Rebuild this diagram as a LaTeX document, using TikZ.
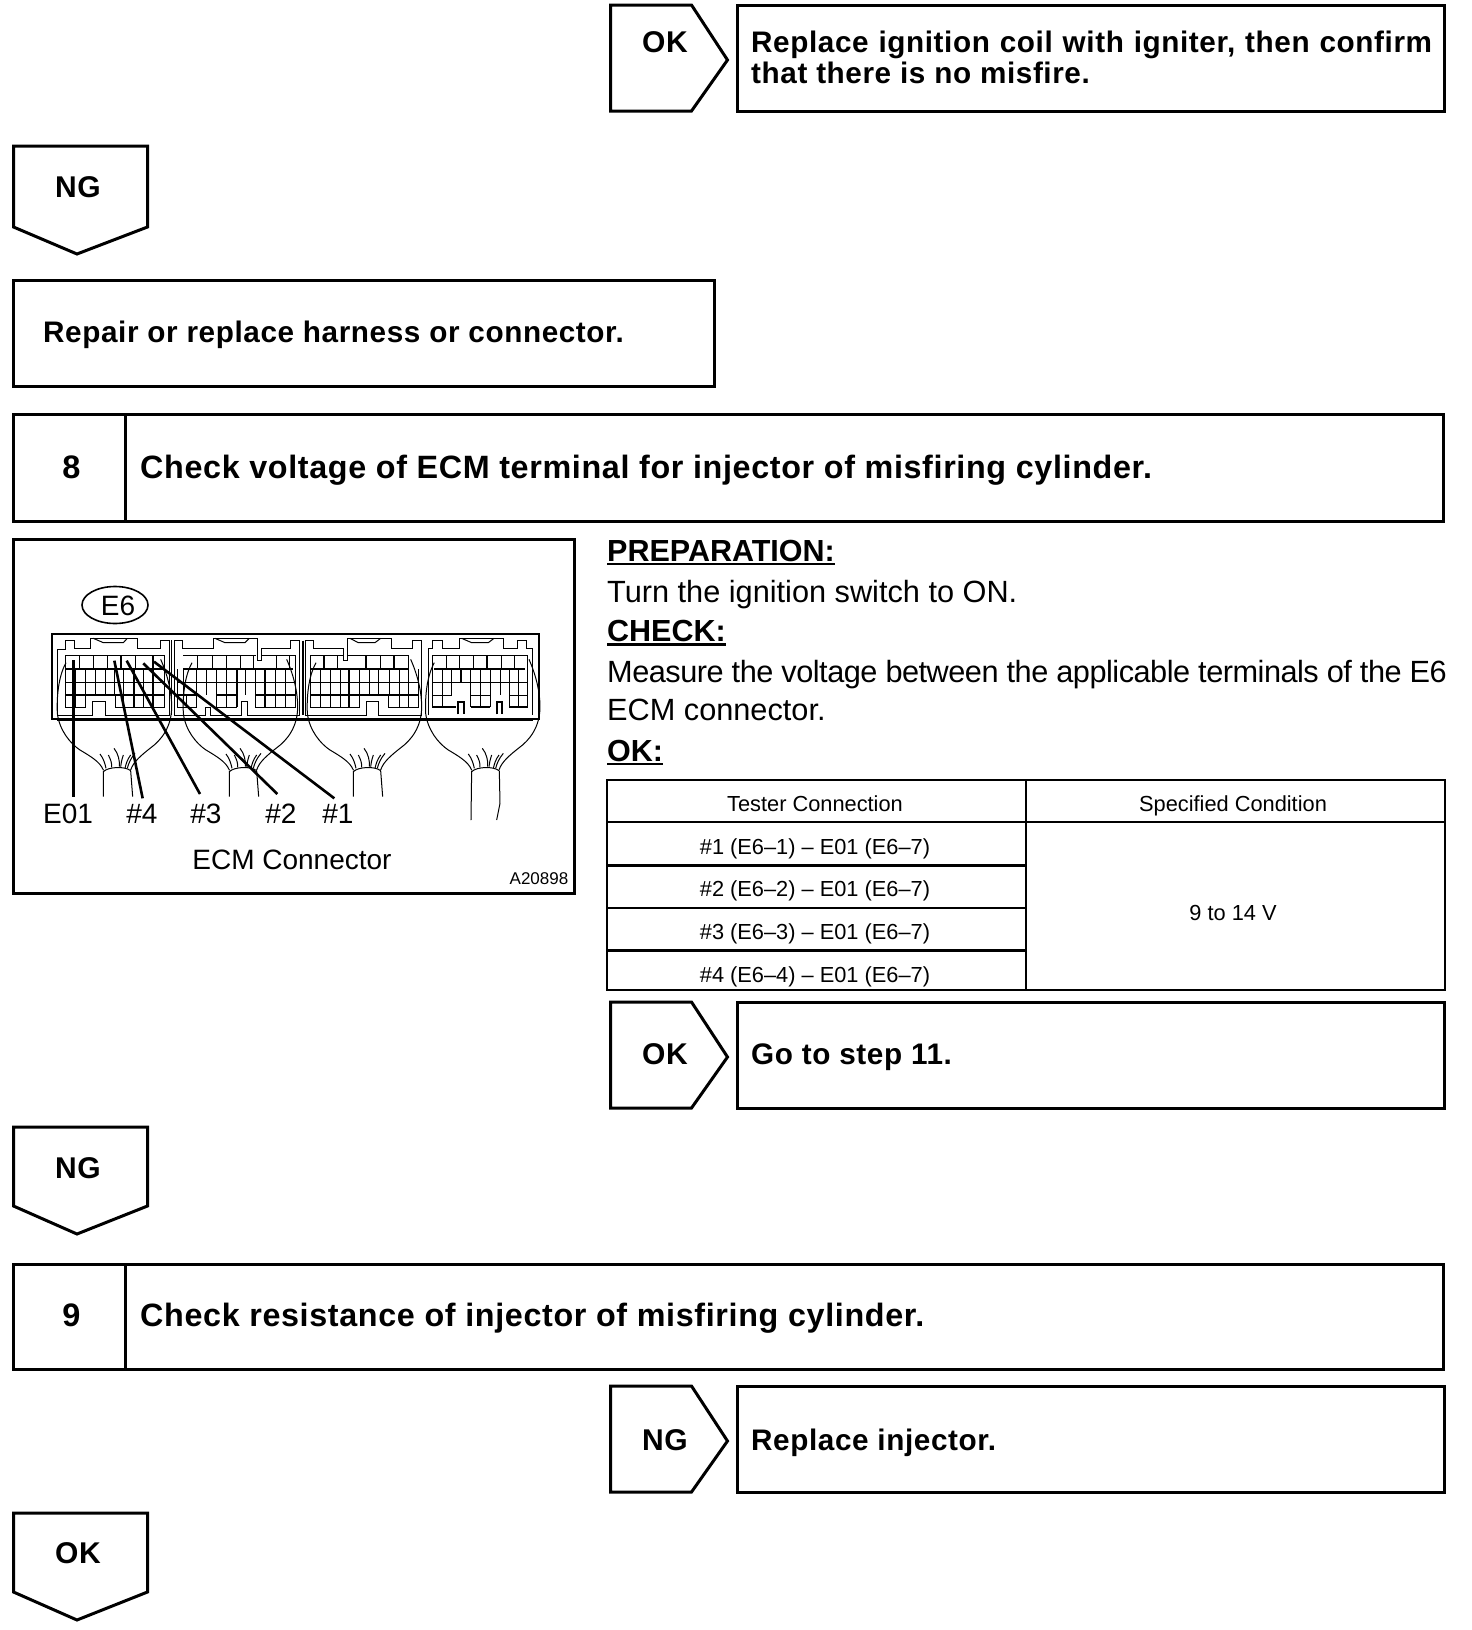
\documentclass[tikz,border=0pt]{standalone}
\usepackage{fontspec}
\usetikzlibrary{shapes.geometric}
\setmainfont{Liberation Sans}
\newfontfamily\bfsx[LetterSpace=2.0]{Liberation Sans}
\newfontfamily\tightf[LetterSpace=-1.6]{Liberation Sans}
\newcommand\bfs{\bfsx\bfseries}
\newcommand\hdul[1]{\leavevmode\vtop{\hbox{#1}\kern 1.5pt\hrule height 2.5pt}}
\newcommand\fs[1]{\fontsize{#1}{#1}\selectfont}
\tikzset{
  boxline/.style={draw=black,line width=3pt,line join=miter,fill=white},
  txt/.style={inner sep=0pt,anchor=base west,text=black},
  ctxt/.style={inner sep=0pt,anchor=base,text=black},
  flowb/.style={txt,font=\bfs\fs{29.7}},
  flowc/.style={ctxt,font=\bfs\fs{30}},
  headb/.style={txt,font=\bfs\fs{32.3}},
  headc/.style={ctxt,font=\bfs\fs{32.5}},
  body/.style={txt,font=\fs{30.7}},
  headg/.style={txt,font=\bfseries\fs{30.5}},
  tab/.style={ctxt,font=\fs{21.8}},
  lab/.style={ctxt,font=\fs{28}},
  thinl/.style={draw=black,line width=1pt,line join=miter},
  thickl/.style={draw=black,line width=2.2pt,line join=miter},
  callout/.style={draw=black,line width=2.6pt},
}
\newcommand\downtag[3]{% top, shoulder, tip
  \draw[boxline] (13.5,#1) -- (147.5,#1) -- (147.5,#2) -- (77,#3) -- (13.5,#2) -- cycle;}
\newcommand\righttag[3]{% top, bottom, tip
  \draw[boxline] (610.5,#1) -- (691.5,#1) -- (727.5,#3) -- (691.5,#2) -- (610.5,#2) -- cycle;}
\newcommand\harness[2]{% x offset, neck end
  \begin{scope}[xshift=#1*0.33333pt]
  \draw[thinl] (78,128) .. controls (55,170) and (50,230) .. (52,280) .. controls (58,330) and (90,370) .. (120,390) .. controls (150,408) and (180,425) .. (190,450);
  \draw[thinl] (362,118) .. controls (385,170) and (395,220) .. (395,260) .. controls (395,320) and (365,360) .. (330,385) .. controls (305,405) and (280,425) .. (272,450);
  \draw[thinl] (190,455) .. controls (205,440) and (255,438) .. (272,452);
  \draw[thinl] (180,402) .. controls (190,415) and (195,430) .. (198,445);
  \draw[thinl] (205,405) .. controls (212,418) and (216,430) .. (215,442);
  \draw[thinl] (222,385) .. controls (235,400) and (240,425) .. (238,440);
  \draw[thinl] (250,405) .. controls (245,420) and (243,430) .. (242,440);
  \draw[thinl] (272,405) .. controls (262,418) and (258,432) .. (255,445);
  \draw[thinl] (285,400) .. controls (272,415) and (265,432) .. (262,445);
  \end{scope}}
\begin{document}
\begin{tikzpicture}[x=1pt,y=-1pt]
\useasboundingbox[fill=white] (0,0) rectangle (1472,1630);

% --- top OK branch
\righttag{5}{111}{60}
\draw[boxline] (737,5) rectangle (1444.5,111);
\node[flowc] (okA) at (665,52) {OK};
\node[flowb] (okAa) at (751,52) {\spaceskip=9.9pt Replace ignition coil with igniter, then confirm};
\node[flowb] (okAb) at (751,83) {that there is no misfire.};

\downtag{146}{227}{254}
\node[flowc] (ngA) at (78,197) {NG};

\draw[boxline] (13.5,280) rectangle (714.5,386);
\node[flowb] (repair) at (43,342) {Repair or replace harness or connector.};

% --- step 8
\draw[boxline] (13.5,414) rectangle (1443.5,521);
\draw[boxline] (125.5,414) -- (125.5,521);
\node[headc] (n8) at (71.5,478) {8};
\node[headb] (t8) at (140,478) {Check voltage of ECM terminal for injector of misfiring cylinder.};

% --- figure
\draw[boxline] (13.5,539) rectangle (574,893);
\node[draw=black,line width=1.6pt,ellipse,minimum width=66pt,minimum height=37pt,inner sep=0pt] (e6) at (115,605) {};
\node[ctxt,font=\fs{28}] (e6t) at (118,615) {E6};

\begin{scope}[shift={(40,620)},x=0.33333pt,y=-0.33333pt]
  % outer housing
  \draw[draw=black,line width=2pt] (36,42) rectangle (1496,298);
  \draw[draw=black,line width=3pt] (50,298) -- (1480,298);
  % module 1
  \draw[thinl] (52,285) -- (52,88) -- (75,88) -- (75,62) -- (103,62) -- (103,85) -- (152,85) -- (152,55) -- (292,55) -- (292,85) -- (360,85) -- (360,62) -- (388,62) -- (388,285) -- (195,285) -- (195,245) -- (158,245) -- (158,285) -- cycle;
  \draw[thinl] (160,55) -- (190,68) -- (250,68) -- (262,55);
  \draw[thinl] (75,105) -- (372,105) (75,105) -- (75,262) -- (135,262) -- (135,225) (225,225) -- (225,262) -- (372,262) -- (372,105);
  \foreach \x in {118,160,203,243,287} \draw[thinl] (\x,105) -- (\x,148);
  \foreach \x in {105,135,165,195,222,250,310,372} \draw[thinl] (\x,148) -- (\x,225);
  \foreach \x in {105,250,310} \draw[thinl] (\x,225) -- (\x,262);
  \draw[thinl] (75,187) -- (372,187);
  \draw[thickl] (75,148) -- (372,148) (75,225) -- (372,225) (283,148) -- (283,262) (340,105) -- (340,262) (243,105) -- (243,148);
  % module 2
  \draw[line width=1.6pt] (395,60) -- (395,285);
  \draw[thinl] (402,285) -- (402,62) -- (428,62) -- (428,85) -- (520,85) -- (520,55) -- (652,55) -- (652,122) -- (665,122) -- (665,85) -- (752,85) -- (752,62) -- (778,62) -- (778,285) -- (622,285) -- (622,245) -- (605,245) -- (605,285) -- (510,285) -- (510,262) -- (495,262) -- (495,285) -- cycle;
  \draw[thinl] (525,55) -- (555,68) -- (615,68) -- (628,55);
  \draw[thinl] (430,105) -- (648,105) (665,105) -- (767,105) (767,105) -- (767,262) -- (647,262) -- (647,225) (588,225) -- (588,262) -- (530,262) -- (530,225) (470,225) -- (470,262) -- (412,262) -- (412,148);
  \foreach \x in {473,517,558,600,640,710,750} \draw[thinl] (\x,105) -- (\x,148);
  \foreach \x in {430,470,500,530,560,617,647,707,737} \draw[thinl] (\x,148) -- (\x,225);
  \foreach \x in {440,560,707,737} \draw[thinl] (\x,225) -- (\x,262);
  \draw[thinl] (412,187) -- (767,187);
  \draw[thickl] (430,148) -- (760,148) (412,225) -- (470,225) (530,225) -- (588,225) (647,225) -- (767,225) (590,148) -- (590,262) (675,148) -- (675,262);
  % module 3
  \draw[line width=2pt] (790,62) -- (790,285);
  \begin{scope}[xshift=250pt]
  \draw[thinl] (45,285) -- (45,62) -- (70,62) -- (70,85) -- (160,85) -- (160,122) -- (172,122) -- (172,55) -- (305,55) -- (305,85) -- (367,85) -- (367,62) -- (395,62) -- (395,285) -- (265,285) -- (265,245) -- (230,245) -- (230,285) -- cycle;
  \draw[thinl] (180,55) -- (205,68) -- (255,68) -- (272,55);
  \draw[thinl] (60,105) -- (160,105) (172,105) -- (355,105) -- (355,148) (60,105) -- (60,262) -- (208,262) -- (208,225) (295,225) -- (295,262) -- (385,262) -- (385,148);
  \foreach \x in {143,270} \draw[thinl] (\x,105) -- (\x,148);
  \foreach \x in {90,120,150,208,238,266,297,327,355} \draw[thinl] (\x,148) -- (\x,225);
  \foreach \x in {90,120,150,327,355} \draw[thinl] (\x,225) -- (\x,262);
  \draw[thinl] (60,187) -- (385,187);
  \draw[thickl] (60,148) -- (355,148) (60,225) -- (385,225) (178,148) -- (178,262) (103,105) -- (103,148) (228,105) -- (228,148) (312,105) -- (312,148);
  % module 4
  \draw[thinl] (415,285) -- (415,85) -- (427,85) -- (427,60) -- (457,60) -- (457,85) -- (507,85) -- (507,55) -- (640,55) -- (640,85) -- (683,85) -- (683,60) -- (710,60) -- (710,85) -- (727,85) -- (727,285);
  \draw[thinl] (515,55) -- (545,68) -- (595,68) -- (612,55);
  \draw[thinl] (427,105) -- (713,105) -- (713,260) (427,105) -- (427,260);
  \foreach \x in {470,508,550,633,673} \draw[thinl] (\x,105) -- (\x,148);
  \foreach \x in {457,485,542,572,600,630,657,685} \draw[thinl] (\x,148) -- (\x,225);
  \foreach \x in {457,572,685} \draw[thinl] (\x,225) -- (\x,260);
  \draw[thinl] (427,187) -- (713,187);
  \draw[thinl] (427,225) -- (485,225) (542,225) -- (600,225) (657,225) -- (713,225);
  \draw[thinl] (542,225) -- (542,260) (600,225) -- (600,260) (657,225) -- (657,260);
  \draw[thickl] (432,148) -- (705,148) (590,105) -- (590,148) (513,148) -- (513,187);
  \draw[thickl] (427,260) -- (497,260) (542,260) -- (600,260) (657,260) -- (713,260);
  \draw[thickl] (505,283) -- (505,245) -- (523,245) -- (523,283) (620,283) -- (620,245) -- (637,245) -- (637,283);
  \end{scope}
  % harnesses
  \harness{0}{530}
  \draw[thinl] (190,452) -- (190,530) (272,452) -- (278,530);
  \harness{378}{530}
  \draw[thinl] (568,452) -- (568,530) (650,452) -- (656,530);
  \harness{750}{530}
  \draw[thinl] (940,452) -- (940,530) (1022,452) -- (1028,530);
  \harness{1105}{600}
  \draw[thinl] (1295,452) -- (1293,600) (1378,452) -- (1380,550) -- (1370,600);
  % callout ends
  \coordinate (pe01) at (100,120);
  \coordinate (p4) at (223,122);
  \coordinate (p3) at (260,122);
  \coordinate (p2) at (310,130);
  \coordinate (p1) at (342,125);
  \coordinate (qe01) at (100,530);
  \coordinate (q4) at (308,535);
  \coordinate (q3) at (480,522);
  \coordinate (q2) at (712,522);
  \coordinate (q1) at (883,535);
\end{scope}
\draw[callout] (pe01) -- (qe01);
\draw[callout] (p4) -- (q4);
\draw[callout] (p3) -- (q3);
\draw[callout] (p2) -- (q2);
\draw[callout] (p1) -- (q1);
\node[lab] (le01) at (68,823.5) {E01};
\node[lab] (l4) at (142,823.5) {\#4};
\node[lab] (l3) at (206,823.5) {\#3};
\node[lab] (l2) at (281,823.5) {\#2};
\node[lab] (l1) at (338,823.5) {\#1};
\node[ctxt,font=\fs{28}] (ecm) at (292,869) {ECM Connector};
\node[ctxt,font=\fs{17}] (aid) at (539,884) {A20898};

% --- right column text
\node[headg] (h1) at (607,561) {\hdul{PREPARATION:}};
\node[body] (b1) at (607,602.5) {Turn the ignition switch to ON.};
\node[headg] (h2) at (607,641.5) {\hdul{CHECK:}};
\node[body] (b2) at (607,682) {\tightf\fs{30.7}Measure the voltage between the applicable terminals of the E6};
\node[body] (b3) at (607,720.5) {ECM connector.};
\node[headg] (h3) at (607,761) {\hdul{OK:}};

% --- table
\draw[draw=black,line width=2.5pt] (607,780) rectangle (1445,990);
\draw[draw=black,line width=2.5pt] (607,822) -- (1445,822);
\draw[draw=black,line width=2.5pt] (1026,780) -- (1026,990);
\foreach \y in {865.5,908,950.5} \draw[draw=black,line width=2.5pt] (607,\y) -- (1026,\y);
\node[tab] (th1) at (815,811) {Tester Connection};
\node[tab] (th2) at (1233,811) {Specified Condition};
\node[tab] (r1) at (815,854) {\#1 (E6–1) – E01 (E6–7)};
\node[tab] (r2) at (815,896.5) {\#2 (E6–2) – E01 (E6–7)};
\node[tab] (r3) at (815,939) {\#3 (E6–3) – E01 (E6–7)};
\node[tab] (r4) at (815,982) {\#4 (E6–4) – E01 (E6–7)};
\node[tab] (spec) at (1233,920.5) {9 to 14 V};

% --- OK to step 11
\righttag{1002}{1108}{1057}
\draw[boxline] (737,1002) rectangle (1444.5,1108);
\node[flowc] (okB) at (665,1064) {OK};
\node[flowb] (go) at (751,1064) {Go to step 11.};

\downtag{1127}{1206}{1234}
\node[flowc] (ngB) at (78,1178) {NG};

% --- step 9
\draw[boxline] (13.5,1264) rectangle (1443.5,1369);
\draw[boxline] (125.5,1264) -- (125.5,1369);
\node[headc] (n9) at (71.5,1326) {9};
\node[headb] (t9) at (140,1326) {Check resistance of injector of misfiring cylinder.};

\righttag{1386}{1492}{1441}
\draw[boxline] (737,1386) rectangle (1444.5,1492);
\node[flowc] (ngC) at (665,1450) {NG};
\node[flowb] (rep) at (751,1450) {Replace injector.};

\downtag{1513}{1592}{1620}
\node[flowc] (okC) at (78,1563) {OK};
\end{tikzpicture}
\end{document}
